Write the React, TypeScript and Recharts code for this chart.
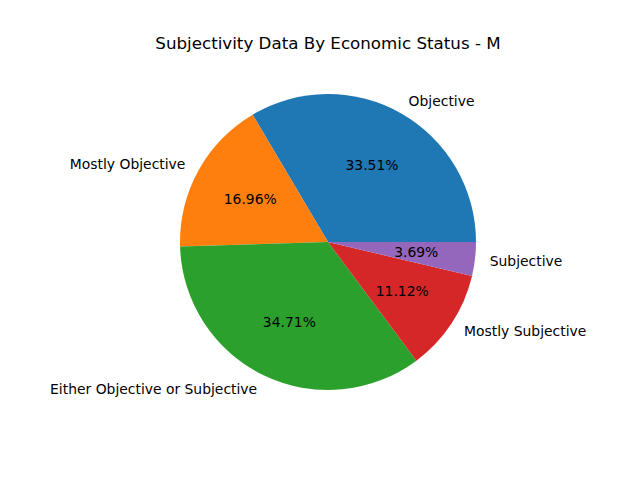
import { PieChart, Pie, Cell } from 'recharts';

const categories = ['Objective', 'Mostly Objective', 'Either Objective or Subjective', 'Mostly Subjective', 'Subjective'];
const shares = [33.51, 16.96, 34.71, 11.12, 3.69];
const colors = ['#1f77b4', '#ff7f0e', '#2ca02c', '#d62728', '#9467bd'];

const data = categories.map((name, i) => ({ name, value: shares[i] }));
const RADIAN = Math.PI / 180;
const font = 'DejaVu Sans, sans-serif';

function renderLabel(props: any) {
  const { cx, cy, midAngle, outerRadius, name, value } = props;
  const cos = Math.cos(-midAngle * RADIAN);
  const sin = Math.sin(-midAngle * RADIAN);
  const lx = cx + outerRadius * 1.1 * cos;
  const ly = cy + outerRadius * 1.1 * sin;
  const px = cx + outerRadius * 0.6 * cos;
  const py = cy + outerRadius * 0.6 * sin;
  return (
    <g>
      <text x={lx} y={ly} textAnchor={cos >= 0 ? 'start' : 'end'} dominantBaseline="central" fontSize={13.9} fontFamily={font} fill="#000">
        {name}
      </text>
      <text x={px} y={py} textAnchor="middle" dominantBaseline="central" fontSize={13.9} fontFamily={font} fill="#000">
        {value.toFixed(2)}%
      </text>
    </g>
  );
}

export default function App() {
  return (
    <div style={{ position: 'absolute', left: 0, top: 0, width: 640, height: 480, background: '#fff' }}>
      <div style={{ position: 'absolute', left: 0, top: 33, width: 656, textAlign: 'center', fontFamily: font, fontSize: 16.7 }}>
        Subjectivity Data By Economic Status - M
      </div>
      <PieChart width={640} height={480}>
        <Pie
          data={data}
          dataKey="value"
          cx={323}
          cy={237}
          outerRadius={148}
          startAngle={0}
          endAngle={360}
          stroke="none"
          label={renderLabel}
          labelLine={false}
          isAnimationActive={false}
        >
          {data.map((d, i) => (
            <Cell key={d.name} fill={colors[i]} />
          ))}
        </Pie>
      </PieChart>
    </div>
  );
}
